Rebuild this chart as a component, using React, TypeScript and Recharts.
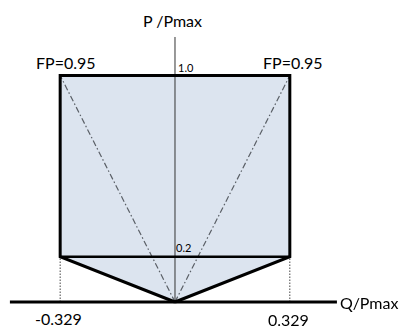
import React from 'react';
import { ComposedChart, XAxis, YAxis, Area, Line } from 'recharts';

// Q/Pmax limit at FP = 0.95
const qLimit = 0.329;
const pMin = 0.2;
const pMax = 1.0;

// Filled capability region (range: [low, high])
const regionData = [
  { q: -qLimit, range: [pMin, pMax] },
  { q: 0, range: [0, pMax] },
  { q: qLimit, range: [pMin, pMax] },
];

// Thick outline
const outlineData = [
  { q: 0, p: 0 },
  { q: -qLimit, p: pMin },
  { q: -qLimit, p: pMax },
  { q: qLimit, p: pMax },
  { q: qLimit, p: pMin },
  { q: 0, p: 0 },
];
const minLineData = [
  { q: -qLimit, p: pMin },
  { q: qLimit, p: pMin },
];

// FP = 0.95 dash-dot rays
const leftRay = [
  { q: 0, p: 0 },
  { q: -qLimit, p: pMax },
];
const rightRay = [
  { q: 0, p: 0 },
  { q: qLimit, p: pMax },
];

// dotted drops to the Q axis
const leftDrop = [
  { q: -qLimit, p: 0 },
  { q: -qLimit, p: pMin },
];
const rightDrop = [
  { q: qLimit, p: 0 },
  { q: qLimit, p: pMin },
];

// axes
const pAxisLine = [
  { q: 0, p: 0 },
  { q: 0, p: 1.17 },
];
const qAxisLine = [
  { q: -0.473, p: 0 },
  { q: 0.464, p: 0 },
];

const W = 403;
const H = 328;
const xDomain = [-0.5014, 0.6533];
const yDomain = [-0.1148, 1.3333];

const font = 'Lato, "Open Sans", sans-serif';

const labels = [
  { text: 'P /Pmax', x: 143, y: 21, size: 16 },
  { text: 'FP=0.95', x: 36, y: 63, size: 16 },
  { text: 'FP=0.95', x: 263, y: 63, size: 16 },
  { text: '1.0', x: 178, y: 67, size: 11 },
  { text: '0.2', x: 176, y: 247, size: 11 },
  { text: '-0.329', x: 35, y: 319, size: 16 },
  { text: '0.329', x: 268, y: 320, size: 16 },
  { text: 'Q/Pmax', x: 340, y: 303, size: 16 },
];

const noDot = { dot: false, activeDot: false, isAnimationActive: false, legendType: 'none' as const };

export default function App() {
  return (
    <div style={{ position: 'fixed', left: 0, top: 0, width: W, height: H, background: '#fff' }}>
      <ComposedChart width={W} height={H} margin={{ top: 0, right: 0, bottom: 0, left: 0 }}>
        <XAxis type="number" dataKey="q" domain={xDomain} hide allowDataOverflow />
        <YAxis type="number" domain={yDomain} hide allowDataOverflow />
        <Area
          data={regionData}
          dataKey="range"
          type="linear"
          fill="#dce4ef"
          fillOpacity={1}
          stroke="none"
          {...noDot}
        />
        <Line data={leftRay} dataKey="p" type="linear" stroke="#5a5f66" strokeWidth={1.2} strokeDasharray="6 2.5 1.5 2.5" {...noDot} />
        <Line data={rightRay} dataKey="p" type="linear" stroke="#5a5f66" strokeWidth={1.2} strokeDasharray="6 2.5 1.5 2.5" {...noDot} />
        <Line data={leftDrop} dataKey="p" type="linear" stroke="#444" strokeWidth={1} strokeDasharray="1.5 1.5" {...noDot} />
        <Line data={rightDrop} dataKey="p" type="linear" stroke="#444" strokeWidth={1} strokeDasharray="1.5 1.5" {...noDot} />
        <Line data={pAxisLine} dataKey="p" type="linear" stroke="#333" strokeWidth={1} {...noDot} />
        <Line data={qAxisLine} dataKey="p" type="linear" stroke="#000" strokeWidth={3} {...noDot} />
        <Line data={minLineData} dataKey="p" type="linear" stroke="#000" strokeWidth={2.5} {...noDot} />
        <Line data={outlineData} dataKey="p" type="linear" stroke="#000" strokeWidth={3} strokeLinejoin="miter" {...noDot} />
      </ComposedChart>
      {labels.map((l, i) => (
        <div
          key={i}
          style={{
            position: 'absolute',
            left: l.x,
            top: l.y - l.size / 2,
            fontFamily: font,
            fontSize: l.size,
            lineHeight: `${l.size}px`,
            color: '#000',
            whiteSpace: 'nowrap',
          }}
        >
          {l.text}
        </div>
      ))}
    </div>
  );
}
